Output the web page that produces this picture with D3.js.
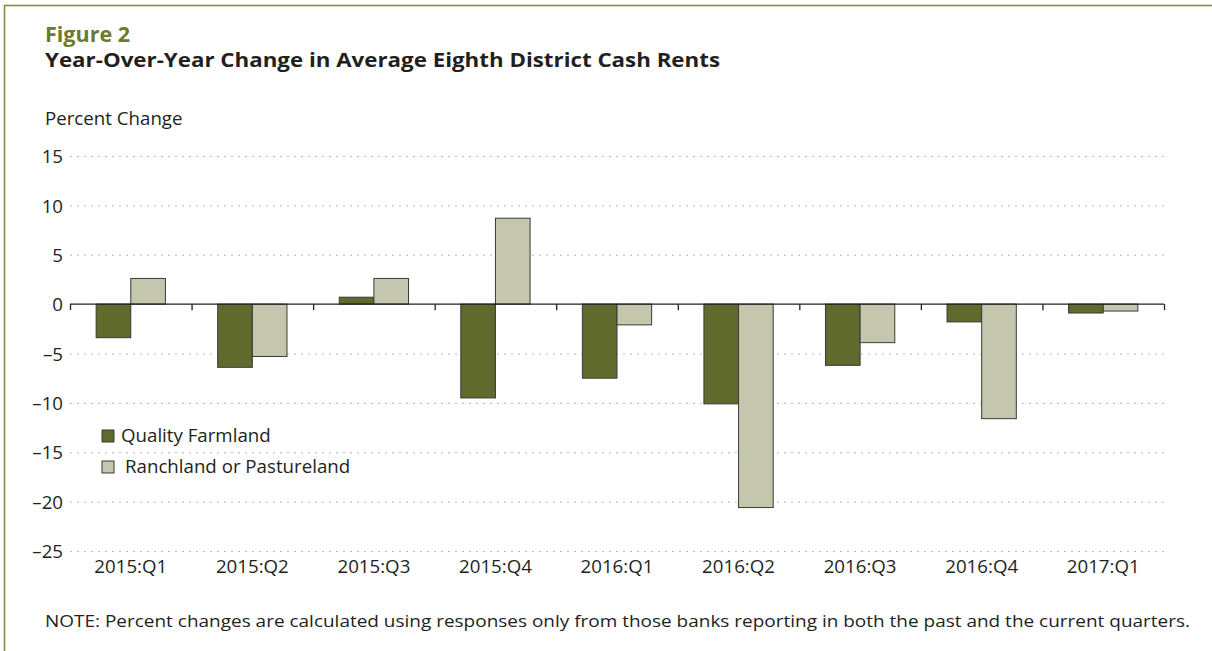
<!DOCTYPE html>
<html>
<head>
<meta charset="utf-8">
<script src="https://cdn.jsdelivr.net/npm/d3@7"></script>
<style>
  body { margin: 0; background: #fff; }
  svg { display: block; font-family: 'Open Sans', sans-serif; }
  .grid line { stroke: #b8b8b8; stroke-dasharray: 2,5; }
</style>
</head>
<body>
<svg id="chart"></svg>
<script>
const quarters = ['2015:Q1', '2015:Q2', '2015:Q3', '2015:Q4', '2016:Q1', '2016:Q2', '2016:Q3', '2016:Q4', '2017:Q1'];
const farmland = [-3.4, -6.4, 0.7, -9.5, -7.5, -10.1, -6.2, -1.8, -0.9];
const ranchland = [2.6, -5.3, 2.6, 8.7, -2.1, -20.6, -3.9, -11.6, -0.7];
const seriesNames = ['Quality Farmland', 'Ranchland or Pastureland'];
const yTicks = [15, 10, 5, 0, -5, -10, -15, -20, -25];

const WIDTH = 1212;
const HEIGHT = 651;
const COLORS = ['#606a2d', '#c4c6ae'];
const INK = '#231f20';
const LEFT = 70, RIGHT = 1164, TOP = 156, BOTTOM = 551;
const FONT = '18.7px';

const svg = d3.select('#chart')
  .attr('width', WIDTH)
  .attr('height', HEIGHT);

// frame
svg.append('rect')
  .attr('x', 4.5).attr('y', 5.5)
  .attr('width', 1400).attr('height', 900)
  .attr('fill', 'none')
  .attr('stroke', '#858a47')
  .attr('stroke-width', 1.6);

svg.append('text')
  .attr('x', 45).attr('y', 42)
  .attr('fill', '#6b7a2c')
  .style('font-size', '21.5px').style('font-weight', 700)
  .text('Figure 2');

svg.append('text')
  .attr('x', 45).attr('y', 67)
  .attr('fill', INK)
  .style('font-size', '19.5px').style('font-weight', 700)
  .attr('textLength', 675)
  .attr('lengthAdjust', 'spacingAndGlyphs')
  .text('Year-Over-Year Change in Average Eighth District Cash Rents');

svg.append('text')
  .attr('x', 45).attr('y', 125)
  .attr('fill', INK)
  .style('font-size', FONT)
  .text('Percent Change');

const y = d3.scaleLinear()
  .domain([-25, 15])
  .range([BOTTOM, TOP]);

const x0 = d3.scaleBand()
  .domain(quarters)
  .range([LEFT, RIGHT])
  .paddingInner(0.43)
  .paddingOuter(0.215);

const x1 = d3.scaleBand()
  .domain([0, 1])
  .range([0, x0.bandwidth()]);

const fmt = d => d < 0 ? '\u2013' + Math.abs(d) : String(d);

const styleLabels = g => g.selectAll('text')
  .attr('fill', INK)
  .style('font-family', "'Open Sans', sans-serif")
  .style('font-size', FONT);

// gridlines
svg.append('g')
  .attr('class', 'grid')
  .attr('transform', `translate(${LEFT},0)`)
  .call(d3.axisLeft(y).tickValues(yTicks.filter(d => d !== 0)).tickSize(-(RIGHT - LEFT)).tickFormat(''))
  .call(g => g.select('.domain').remove());

// y labels
svg.append('g')
  .attr('transform', `translate(${LEFT - 7},0)`)
  .call(d3.axisLeft(y).tickValues(yTicks).tickSize(0).tickPadding(0).tickFormat(fmt))
  .call(g => g.select('.domain').remove())
  .call(styleLabels)
  .call(g => g.selectAll('text').attr('dy', '0.36em'));

// bars
const series = [farmland, ranchland];
const groups = svg.append('g')
  .selectAll('g')
  .data(quarters)
  .join('g')
  .attr('transform', d => `translate(${x0(d)},0)`);

groups.selectAll('rect')
  .data((d, i) => series.map((s, k) => ({ k, v: s[i] })))
  .join('rect')
  .attr('x', d => x1(d.k))
  .attr('width', x1.bandwidth())
  .attr('y', d => y(Math.max(0, d.v)))
  .attr('height', d => Math.abs(y(d.v) - y(0)))
  .attr('fill', d => COLORS[d.k])
  .attr('stroke', '#3a3a36')
  .attr('stroke-width', 1);

// zero line with boundary ticks
const step = x0.step();
svg.append('line')
  .attr('x1', LEFT).attr('x2', RIGHT)
  .attr('y1', y(0)).attr('y2', y(0))
  .attr('stroke', INK).attr('stroke-width', 1.3);

svg.append('g')
  .selectAll('line')
  .data(d3.range(quarters.length + 1))
  .join('line')
  .attr('x1', i => LEFT + i * step + 0.5)
  .attr('x2', i => LEFT + i * step + 0.5)
  .attr('y1', y(0))
  .attr('y2', y(0) + 6)
  .attr('stroke', INK).attr('stroke-width', 1.3);

// x labels
svg.append('g')
  .attr('transform', `translate(0,${BOTTOM + 22})`)
  .call(d3.axisBottom(x0).tickSize(0).tickPadding(0))
  .call(g => g.select('.domain').remove())
  .call(styleLabels)
  .call(g => g.selectAll('text').attr('dy', 0));

// legend
const legend = svg.append('g')
  .selectAll('g')
  .data(seriesNames)
  .join('g')
  .attr('transform', (d, i) => `translate(102,${430 + i * 31})`);

legend.append('rect')
  .attr('width', 12).attr('height', 12)
  .attr('fill', (d, i) => COLORS[i])
  .attr('stroke', '#3a3a36').attr('stroke-width', 1);

legend.append('text')
  .attr('x', (d, i) => i ? 23 : 19)
  .attr('y', 12)
  .attr('fill', INK)
  .style('font-size', FONT)
  .text(d => d);

svg.append('text')
  .attr('x', 45).attr('y', 627)
  .attr('fill', INK)
  .style('font-size', '15.5px')
  .attr('textLength', 1145)
  .attr('lengthAdjust', 'spacingAndGlyphs')
  .text('NOTE: Percent changes are calculated using responses only from those banks reporting in both the past and the current quarters.');
</script>
</body>
</html>
